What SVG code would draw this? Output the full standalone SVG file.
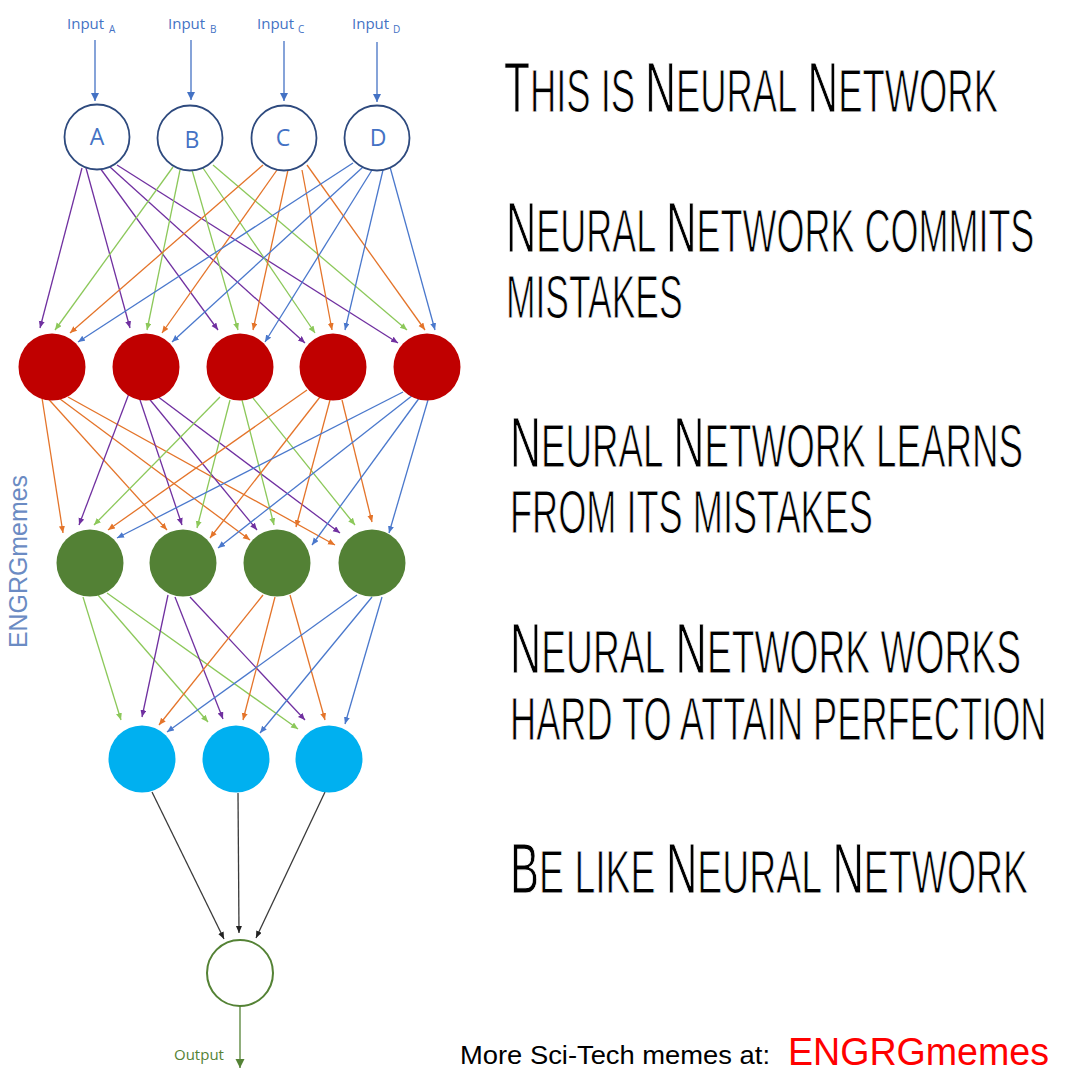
<svg xmlns="http://www.w3.org/2000/svg" width="1080" height="1080" viewBox="0 0 1080 1080">
<style>
.lbl{font-family:"Open Sans","Liberation Sans",sans-serif;fill:#4472C4}
.inp{font-size:15px}
.sub{font-size:10px}
.let{font-size:23px;text-anchor:middle}
.in{fill:#fff;stroke:#2E4A7E;stroke-width:1.8}
.red{fill:#C00000}
.grn{fill:#538135}
.cyn{fill:#00B0F0}
.out{fill:#fff;stroke:#548235;stroke-width:2}
.c line{stroke-width:1.3;fill:none}
.pu{stroke:#7030A0;marker-end:url(#mpu)}
.gr{stroke:#8CC85A;marker-end:url(#mgr)}
.or{stroke:#E4742A;marker-end:url(#mor)}
.bl{stroke:#4A78CC;marker-end:url(#mbl)}
.bk{stroke:#3A3A3A;marker-end:url(#mbk)}
.ia{stroke:#4472C4;stroke-width:2;marker-end:url(#mia)}
.oa{stroke:#548235;stroke-width:2.6;marker-end:url(#moa)}
.t{font-family:"Liberation Sans",Arial,sans-serif;fill:#000;stroke:#fff;stroke-width:1.1}
.b{font-size:71px}
.s{font-size:61px}
</style>
<defs>
<marker id="mpu" markerUnits="userSpaceOnUse" markerWidth="8" markerHeight="7" refX="7" refY="3" orient="auto"><path d="M0,0 L7,3 L0,6 z" fill="#7030A0"/></marker>
<marker id="mgr" markerUnits="userSpaceOnUse" markerWidth="8" markerHeight="7" refX="7" refY="3" orient="auto"><path d="M0,0 L7,3 L0,6 z" fill="#8CC85A"/></marker>
<marker id="mor" markerUnits="userSpaceOnUse" markerWidth="8" markerHeight="7" refX="7" refY="3" orient="auto"><path d="M0,0 L7,3 L0,6 z" fill="#E4742A"/></marker>
<marker id="mbl" markerUnits="userSpaceOnUse" markerWidth="8" markerHeight="7" refX="7" refY="3" orient="auto"><path d="M0,0 L7,3 L0,6 z" fill="#4A78CC"/></marker>
<marker id="mbk" markerUnits="userSpaceOnUse" markerWidth="8" markerHeight="7" refX="7" refY="3" orient="auto"><path d="M0,0 L7,3 L0,6 z" fill="#222"/></marker>
<marker id="mia" markerUnits="userSpaceOnUse" markerWidth="10" markerHeight="9" refX="8" refY="4" orient="auto"><path d="M0,0 L8,4 L0,8 z" fill="#4472C4"/></marker>
<marker id="moa" markerUnits="userSpaceOnUse" markerWidth="11" markerHeight="10" refX="9" refY="4.5" orient="auto"><path d="M0,0 L9,4.5 L0,9 z" fill="#548235"/></marker>
</defs>
<rect width="1080" height="1080" fill="#fff"/>

<g id="connectors" class="c">
<line class="ia" x1="95" y1="40" x2="95" y2="101"/>
<line class="ia" x1="191" y1="40" x2="191" y2="100"/>
<line class="ia" x1="284" y1="41" x2="284" y2="101"/>
<line class="ia" x1="377" y1="42" x2="377" y2="102"/>
<line class="pu" x1="82" y1="168" x2="40" y2="328"/>
<line class="pu" x1="86" y1="168" x2="130" y2="328"/>
<line class="pu" x1="100" y1="168" x2="218" y2="330"/>
<line class="pu" x1="110" y1="167" x2="305" y2="343"/>
<line class="pu" x1="117" y1="165" x2="398" y2="343"/>
<line class="gr" x1="173" y1="167" x2="55" y2="330"/>
<line class="gr" x1="180" y1="170" x2="147" y2="330"/>
<line class="gr" x1="192" y1="170" x2="238" y2="330"/>
<line class="gr" x1="203" y1="168" x2="315" y2="333"/>
<line class="gr" x1="213" y1="165" x2="407" y2="330"/>
<line class="or" x1="263" y1="165" x2="70" y2="333"/>
<line class="or" x1="277" y1="170" x2="162" y2="333"/>
<line class="or" x1="288" y1="170" x2="253" y2="330"/>
<line class="or" x1="302" y1="170" x2="332" y2="330"/>
<line class="or" x1="307" y1="165" x2="425" y2="330"/>
<line class="bl" x1="353" y1="163" x2="78" y2="342"/>
<line class="bl" x1="363" y1="167" x2="172" y2="342"/>
<line class="bl" x1="372" y1="170" x2="265" y2="342"/>
<line class="bl" x1="383" y1="170" x2="345" y2="330"/>
<line class="bl" x1="390" y1="167" x2="435" y2="330"/>
<line class="or" x1="40" y1="385" x2="63" y2="533"/>
<line class="or" x1="43" y1="393" x2="167" y2="530"/>
<line class="or" x1="52" y1="393" x2="250" y2="540"/>
<line class="or" x1="68" y1="397" x2="335" y2="545"/>
<line class="pu" x1="133" y1="383" x2="79" y2="525"/>
<line class="pu" x1="135" y1="385" x2="182" y2="525"/>
<line class="pu" x1="142" y1="390" x2="257" y2="530"/>
<line class="pu" x1="153" y1="393" x2="340" y2="533"/>
<line class="gr" x1="220" y1="397" x2="94" y2="525"/>
<line class="gr" x1="230" y1="400" x2="197" y2="528"/>
<line class="gr" x1="242" y1="400" x2="274" y2="525"/>
<line class="gr" x1="253" y1="398" x2="355" y2="525"/>
<line class="or" x1="307" y1="390" x2="108" y2="530"/>
<line class="or" x1="320" y1="397" x2="210" y2="538"/>
<line class="or" x1="330" y1="400" x2="296" y2="527"/>
<line class="or" x1="342" y1="400" x2="372" y2="522"/>
<line class="bl" x1="403" y1="392" x2="117" y2="538"/>
<line class="bl" x1="413" y1="395" x2="218" y2="548"/>
<line class="bl" x1="420" y1="397" x2="312" y2="545"/>
<line class="bl" x1="428" y1="400" x2="389" y2="533"/>
<line class="gr" x1="83" y1="597" x2="121" y2="720"/>
<line class="gr" x1="98" y1="595" x2="208" y2="722"/>
<line class="gr" x1="107" y1="593" x2="298" y2="729"/>
<line class="pu" x1="168" y1="595" x2="142" y2="717"/>
<line class="pu" x1="175" y1="597" x2="223" y2="719"/>
<line class="pu" x1="190" y1="597" x2="305" y2="720"/>
<line class="or" x1="263" y1="595" x2="159" y2="725"/>
<line class="or" x1="275" y1="597" x2="243" y2="720"/>
<line class="or" x1="290" y1="595" x2="325" y2="720"/>
<line class="bl" x1="357" y1="595" x2="167" y2="732"/>
<line class="bl" x1="372" y1="597" x2="260" y2="733"/>
<line class="bl" x1="382" y1="597" x2="345" y2="724"/>
<line class="bk" x1="152" y1="792" x2="224" y2="939"/>
<line class="bk" x1="238" y1="793" x2="239" y2="933"/>
<line class="bk" x1="325" y1="792" x2="256" y2="938"/>
<line class="oa" x1="240" y1="1006" x2="240" y2="1068"/>
</g>

<g id="node-A">
<text class="lbl inp" x="67" y="29">Input</text>
<text class="lbl sub" x="109" y="33">A</text>
<circle class="in" cx="97" cy="137" r="32.5"/>
<text class="lbl let" x="97" y="145">A</text>
</g>
<g id="node-B">
<text class="lbl inp" x="168" y="29">Input</text>
<text class="lbl sub" x="210" y="33">B</text>
<circle class="in" cx="190" cy="138" r="32.5"/>
<text class="lbl let" x="192" y="148">B</text>
</g>
<g id="node-C">
<text class="lbl inp" x="257" y="29">Input</text>
<text class="lbl sub" x="298" y="33">C</text>
<circle class="in" cx="284" cy="138" r="32.5"/>
<text class="lbl let" x="283" y="146">C</text>
</g>
<g id="node-D">
<text class="lbl inp" x="352" y="29">Input</text>
<text class="lbl sub" x="393" y="33">D</text>
<circle class="in" cx="377" cy="138" r="32.5"/>
<text class="lbl let" x="378" y="146">D</text>
</g>

<g id="node-h1-1"><circle class="red" cx="52" cy="367" r="33.5"/></g>
<g id="node-h1-2"><circle class="red" cx="146" cy="367" r="33.5"/></g>
<g id="node-h1-3"><circle class="red" cx="240" cy="367" r="33.5"/></g>
<g id="node-h1-4"><circle class="red" cx="333" cy="367" r="33.5"/></g>
<g id="node-h1-5"><circle class="red" cx="427" cy="367" r="33.5"/></g>

<g id="node-h2-1"><circle class="grn" cx="90" cy="563" r="33.5"/></g>
<g id="node-h2-2"><circle class="grn" cx="183" cy="563" r="33.5"/></g>
<g id="node-h2-3"><circle class="grn" cx="277" cy="563" r="33.5"/></g>
<g id="node-h2-4"><circle class="grn" cx="372" cy="563" r="33.5"/></g>

<g id="node-h3-1"><circle class="cyn" cx="142" cy="759" r="33.5"/></g>
<g id="node-h3-2"><circle class="cyn" cx="236" cy="759" r="33.5"/></g>
<g id="node-h3-3"><circle class="cyn" cx="329" cy="759" r="33.5"/></g>

<g id="node-output">
<circle class="out" cx="240" cy="973" r="33"/>
<text x="174" y="1060" font-family="'Open Sans','Liberation Sans',sans-serif" font-size="15" fill="#548235">Output</text>
</g>

<text transform="translate(27,648) rotate(-90)" font-family="'Liberation Sans',Arial,sans-serif" font-size="25" fill="#6B8BC3" textLength="173" lengthAdjust="spacingAndGlyphs">ENGRGmemes</text>

<g id="caption" class="t">
<g transform="translate(504,112) scale(0.5972,1)">
<text class="b" x="0" y="0">T</text>
<text class="s" x="43.4" y="0">HIS IS</text>
<text class="b" x="236.6" y="0">N</text>
<text class="s" x="287.9" y="0">EURAL</text>
<text class="b" x="508.2" y="0">N</text>
<text class="s" x="559.5" y="0">ETWORK</text>
</g>
<g transform="translate(506,252) scale(0.5900,1)">
<text class="b" x="0" y="0">N</text>
<text class="s" x="51.3" y="0">EURAL</text>
<text class="b" x="271.6" y="0">N</text>
<text class="s" x="322.9" y="0">ETWORK COMMITS</text>
</g>
<g transform="translate(506,318) scale(0.581,1)">
<text class="s" x="0" y="0">MISTAKES</text>
</g>
<g transform="translate(510,467) scale(0.6024,1)">
<text class="b" x="0" y="0">N</text>
<text class="s" x="51.3" y="0">EURAL</text>
<text class="b" x="271.6" y="0">N</text>
<text class="s" x="322.9" y="0">ETWORK LEARNS</text>
</g>
<g transform="translate(510,533) scale(0.593,1)">
<text class="s" x="0" y="0">FROM ITS MISTAKES</text>
</g>
<g transform="translate(510,673) scale(0.6098,1)">
<text class="b" x="0" y="0">N</text>
<text class="s" x="51.3" y="0">EURAL</text>
<text class="b" x="271.6" y="0">N</text>
<text class="s" x="322.9" y="0">ETWORK WORKS</text>
</g>
<g transform="translate(510,740) scale(0.5936,1)">
<text class="s" x="0" y="0">HARD TO ATTAIN PERFECTION</text>
</g>
<g transform="translate(510,893) scale(0.6131,1)">
<text class="b" x="0" y="0">B</text>
<text class="s" x="47.4" y="0">E LIKE</text>
<text class="b" x="254.3" y="0">N</text>
<text class="s" x="305.6" y="0">EURAL</text>
<text class="b" x="525.9" y="0">N</text>
<text class="s" x="577.2" y="0">ETWORK</text>
</g>
</g>

<g id="footer">
<text x="460" y="1064" font-family="'Liberation Sans',Arial,sans-serif" font-size="25" fill="#000" textLength="310" lengthAdjust="spacingAndGlyphs">More Sci-Tech memes at:</text>
<text x="788" y="1065" font-family="'Liberation Sans',Arial,sans-serif" font-size="38" fill="#FF0000" textLength="261" lengthAdjust="spacingAndGlyphs">ENGRGmemes</text>
</g>
</svg>
